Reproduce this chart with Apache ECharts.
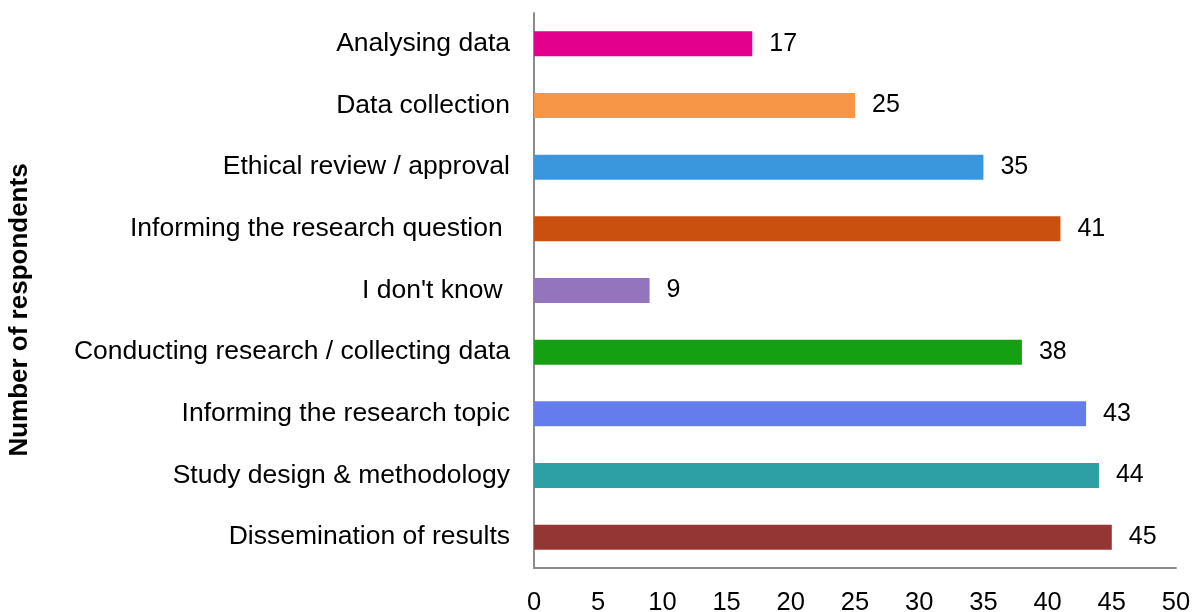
<!DOCTYPE html>
<html>
<head>
<meta charset="utf-8">
<script src="https://cdn.jsdelivr.net/npm/echarts@6/dist/echarts.min.js"></script>
<style>
html,body{margin:0;padding:0;background:#fff;}
#chart{width:1195px;height:612px;}
</style>
</head>
<body>
<div id="chart"></div>
<script>
var categories = [
  "Analysing data",
  "Data collection",
  "Ethical review / approval",
  "Informing the research question ",
  "I don't know ",
  "Conducting research / collecting data",
  "Informing the research topic",
  "Study design & methodology",
  "Dissemination of results"
];
var values = [17, 25, 35, 41, 9, 38, 43, 44, 45];
var colors = ["#E3008C", "#F79646", "#3A96DD", "#C9500F", "#9474BD", "#14A012", "#647CEE", "#2CA0A5", "#943634"];
var xTicks = [0, 5, 10, 15, 20, 25, 30, 35, 40, 45, 50];
var axisTitle = "Number of respondents";

var chart = echarts.init(document.getElementById('chart'));
var font = "Liberation Sans, Arial, sans-serif";
chart.setOption({
  animation: false,
  grid: {left: 534, right: 19, top: 13, bottom: 44, containLabel: false, outerBoundsMode: 'none'},
  xAxis: {
    type: 'value',
    min: xTicks[0], max: xTicks[xTicks.length - 1], interval: 5,
    axisLine: {show: true, lineStyle: {color: '#8c8c8c', width: 2}},
    axisTick: {show: false},
    splitLine: {show: false},
    axisLabel: {color: '#000', fontSize: 25.5, fontFamily: font, margin: 22}
  },
  yAxis: {
    type: 'category',
    inverse: true,
    data: categories,
    axisLine: {show: true, lineStyle: {color: '#8c8c8c', width: 2}},
    axisTick: {show: false},
    axisLabel: {color: '#000', fontSize: 26.5, fontFamily: font, margin: 24, padding: [3, 0, 0, 0]}
  },
  graphic: [{
    type: 'text',
    x: 20, y: 310,
    rotation: Math.PI / 2,
    style: {
      text: axisTitle,
      fill: '#000',
      font: 'bold 26px ' + font,
      align: 'center',
      verticalAlign: 'middle'
    }
  }],
  series: [{
    type: 'bar',
    data: values.map(function (v, i) { return {value: v, itemStyle: {color: colors[i]}}; }),
    barWidth: 25,
    label: {
      show: true, position: 'right', distance: 17,
      color: '#000', fontSize: 25, fontFamily: font, padding: [3, 0, 0, 0]
    }
  }]
});
</script>
</body>
</html>
